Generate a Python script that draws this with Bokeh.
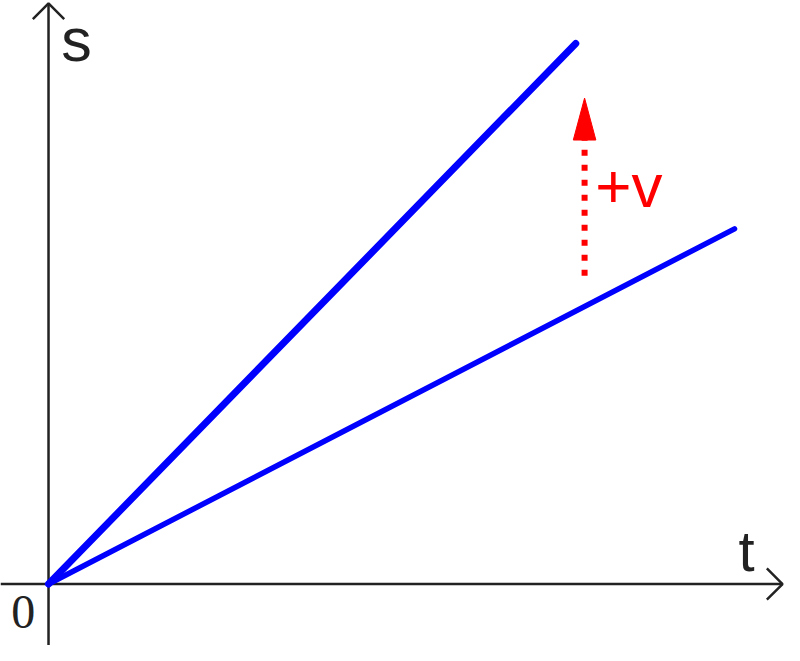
from bokeh.plotting import figure
from bokeh.models import Range1d
from bokeh.embed import file_html
from bokeh.resources import INLINE
from bokeh.core.properties import value

# data (units: arbitrary t and s)
t_fast = [0, 538]
s_fast = [0, 554]
t_slow = [0, 700]
s_slow = [0, 364]

# axis extents
t_axis = [-49, 749]
s_axis = [-63, 595]
head = 16

# velocity-increase arrow
v_arrow_t = 547
v_arrow_s = [316, 455]
v_head_tip = 498
v_head_half = 11.5

p = figure(width=784, height=645, x_range=Range1d(-49, 751), y_range=Range1d(-63, 598),
           output_backend="svg", toolbar_location=None, min_border=0)
p.axis.visible = False
p.grid.visible = False
p.outline_line_color = None
p.background_fill_color = "white"
p.border_fill_color = "white"

ax_col = "#222222"
# axes
p.line([t_axis[0], t_axis[1]], [0, 0], line_color=ax_col, line_width=2.5)
p.line([0, 0], [s_axis[0], s_axis[1]], line_color=ax_col, line_width=2.5)
# arrowheads
p.line([t_axis[1] - head, t_axis[1], t_axis[1] - head], [head, 0, -head],
       line_color=ax_col, line_width=2.5)
p.line([-head, 0, head], [s_axis[1] - head, s_axis[1], s_axis[1] - head],
       line_color=ax_col, line_width=2.5)

# lines
p.line(t_slow, s_slow, line_color="#0000ff", line_width=5.5, line_cap="round")
p.line(t_fast, s_fast, line_color="#0000ff", line_width=7, line_cap="round")

# red dotted arrow
p.line([v_arrow_t, v_arrow_t], v_arrow_s, line_color="#ff0000", line_width=6,
       line_dash="6 9", line_cap="butt")
p.patch([v_arrow_t - v_head_half, v_arrow_t, v_arrow_t + v_head_half],
        [v_arrow_s[1], v_head_tip, v_arrow_s[1]], fill_color="#ff0000", line_color="#ff0000")

# labels
p.text([13], [558], text=["s"], text_font=value("Liberation Sans"), text_font_size="61px",
       text_color=ax_col, text_baseline="alphabetic")
p.text([704], [34], text=["t"], text_font=value("Liberation Sans"), text_font_size="58px",
       text_color=ax_col, text_baseline="alphabetic")
p.text([-38], [-29], text=["0"], text_font=value("Liberation Serif"), text_font_size="48px",
       text_color=ax_col, text_baseline="alphabetic")
p.text([558], [408], text=["+v"], text_font=value("Liberation Sans"), text_font_size="62px",
       text_color="#ff0000", text_baseline="alphabetic")

open("out.html", "w").write(file_html(p, INLINE))
